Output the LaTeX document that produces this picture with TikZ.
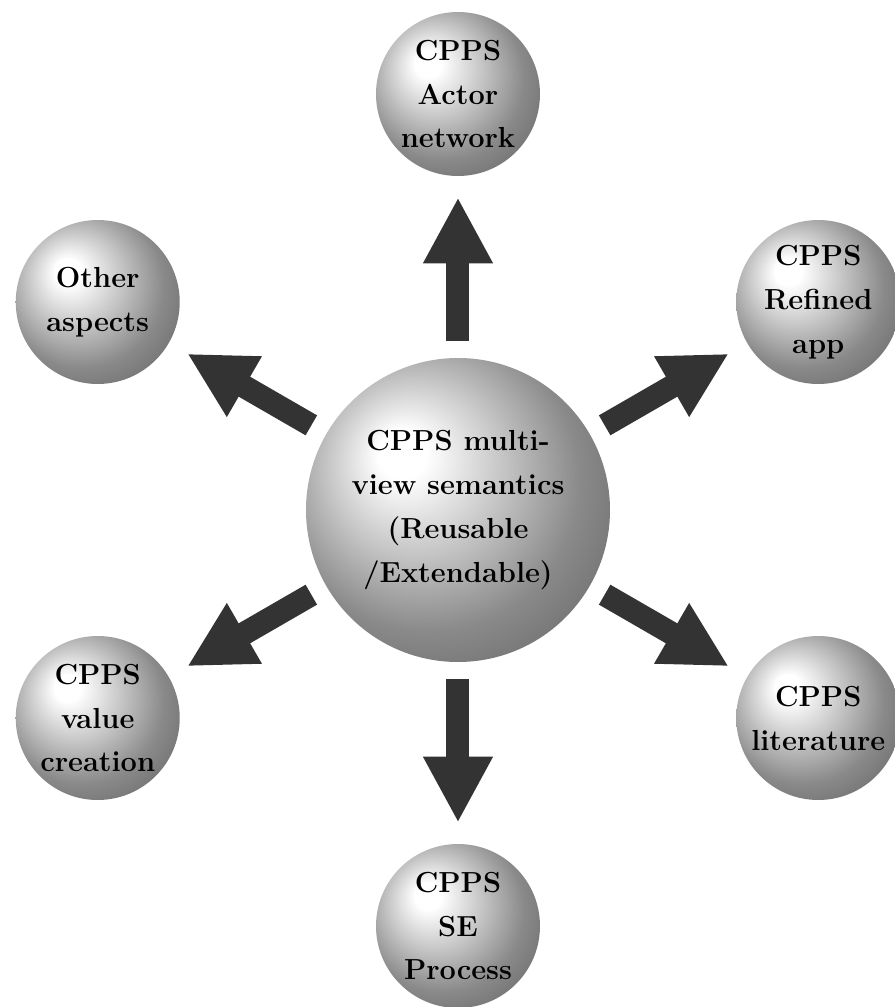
\documentclass[tikz,border=0pt]{standalone}
\usepackage{fontspec}
\usepackage{tikz}
\usetikzlibrary{arrows.meta}

\pgfdeclareradialshading{lightball}{\pgfpoint{-10bp}{10bp}}{%
  color(0bp)=(white);
  color(4bp)=(white);
  color(15bp)=(black!24);
  color(25bp)=(black!46);
  color(40bp)=(black!64);
  color(50bp)=(black!70)}

\begin{document}
\begin{tikzpicture}[
    font=\fontsize{16.5}{25}\selectfont\bfseries,
    hubball/.style={circle, inner sep=0pt, minimum size=6.08cm, shading=lightball},
    viewball/.style={circle, inner sep=0pt, minimum size=3.28cm, shading=lightball},
    balltext/.style={align=center, inner sep=0pt},
    fatarrow/.style={line width=0.46cm, black!80,
      -{Triangle[width=1.3cm, length=1.32cm]},
      shorten <=0.34cm, shorten >=0.42cm}
  ]
  \useasboundingbox (-9.16,-9.94) rectangle (8.74,10.2);
  % central semantics ball
  \node[hubball] (hub) at (0,0) {};
  \node[balltext] (hubtext) at (hub) {CPPS multi-\\view semantics\\(Reusable\\/Extendable)};
  % views around it
  \node[viewball] (actor) at (90:8.32) {};
  \node[balltext] (actortext) at (actor) {CPPS\\Actor\\network};
  \node[viewball] (app) at (30:8.32) {};
  \node[balltext] (apptext) at (app) {CPPS\\Refined\\app};
  \node[viewball] (lit) at (-30:8.32) {};
  \node[balltext] (littext) at (lit) {CPPS\\literature};
  \node[viewball] (se) at (-90:8.32) {};
  \node[balltext] (setext) at (se) {CPPS\\SE\\Process};
  \node[viewball] (value) at (210:8.32) {};
  \node[balltext] (valuetext) at (value) {CPPS\\value\\creation};
  \node[viewball] (other) at (150:8.32) {};
  \node[balltext] (othertext) at (other) {Other\\aspects};
  % arrows out of the hub
  \draw[fatarrow] (hub) -- (actor);
  \draw[fatarrow] (hub) -- (app);
  \draw[fatarrow] (hub) -- (lit);
  \draw[fatarrow] (hub) -- (se);
  \draw[fatarrow] (hub) -- (value);
  \draw[fatarrow] (hub) -- (other);
\end{tikzpicture}
\end{document}
